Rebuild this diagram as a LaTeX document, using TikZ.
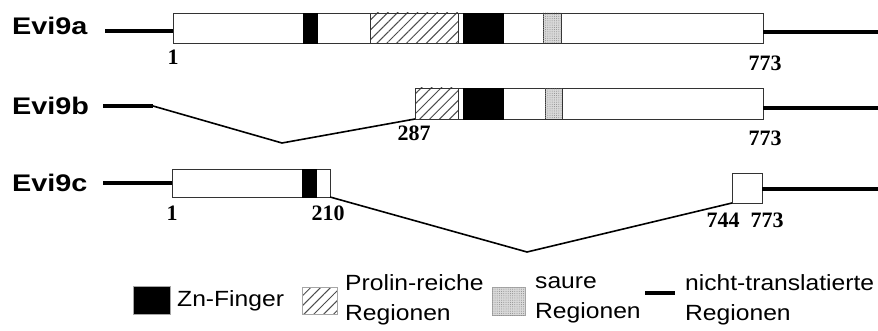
\documentclass[tikz,border=0pt]{standalone}
\usepackage{fontspec}
\usetikzlibrary{patterns.meta}
\newfontfamily\labf[FakeStretch=1.2]{Liberation Sans}
\newfontfamily\legf[FakeStretch=1.12]{Liberation Sans}
\newfontfamily\numf{Liberation Serif}
\begin{document}
\begin{tikzpicture}[x=1pt,y=-1pt,
  seg/.style={rectangle,inner sep=0pt,outer sep=0pt,anchor=north west,draw=black!80,line width=0.9pt},
  whitebox/.style={seg,fill=white},
  zn/.style={seg,fill=black,draw=black},
  pro/.style={seg,fill=white,pattern={Lines[angle=45,distance=7pt,line width=1pt]},pattern color=black!70},
  acid/.style={seg,fill=gray!30,postaction={pattern={Dots[distance=2.2pt,radius=0.5pt]},pattern color=gray!90}},
  utr/.style={line width=3.2pt},
  intron/.style={line width=1.6pt},
  rowlab/.style={font=\labf\bfseries\fontsize{24}{26}\selectfont,anchor=west,inner sep=0pt},
  num/.style={font=\numf\bfseries\fontsize{22}{24}\selectfont,inner sep=0pt},
  legtext/.style={font=\legf\fontsize{22}{30}\selectfont,anchor=west,align=left,inner sep=0pt},
  legbox/.style={rectangle,inner sep=0pt,anchor=north west,draw=gray!70,line width=0.9pt}
]
\useasboundingbox (0,0) rectangle (878,331);

% ---------- Evi9a ----------
\node[rowlab] (la) at (12,26) {Evi9a};
\node[whitebox,minimum width=590pt,minimum height=30pt] (a) at (173,13) {};
\node[zn,minimum width=14pt,minimum height=30pt] (a1) at (303,13) {};
\node[pro,minimum width=88pt,minimum height=30pt] (a2) at (370,13) {};
\node[zn,minimum width=40pt,minimum height=30pt] (a3) at (463,13) {};
\node[acid,minimum width=18pt,minimum height=30pt] (a4) at (543,13) {};
\coordinate (aL) at (105,31);
\coordinate (aR) at (878,32);
\draw[utr] (aL) -- (aL -| a.west);
\draw[utr] (aR -| a.east) -- (aR);
\node[num] (na1) at (173,57) {1};
\node[num] (na2) at (765,63) {773};

% ---------- Evi9b ----------
\node[rowlab] (lb) at (12,106) {Evi9b};
\node[whitebox,minimum width=348pt,minimum height=31pt] (b) at (415,88) {};
\node[pro,minimum width=43pt,minimum height=31pt] (b1) at (415,88) {};
\node[zn,minimum width=40pt,minimum height=31pt] (b2) at (463,88) {};
\node[acid,minimum width=17pt,minimum height=31pt] (b3) at (545,88) {};
\coordinate (bL) at (103,106);
\coordinate (bK) at (153,106);
\coordinate (bV) at (282,143);
\coordinate (bR) at (878,108);
\draw[utr] (bL) -- (bK);
\draw[intron] (bK) -- (bV) -- (b.south west);
\draw[utr] (bR -| b.east) -- (bR);
\node[num] (nb1) at (414,133) {287};
\node[num] (nb2) at (765,138) {773};

% ---------- Evi9c ----------
\node[rowlab] (lc) at (12,183) {Evi9c};
\node[whitebox,minimum width=158pt,minimum height=28pt] (c) at (172,169) {};
\node[zn,minimum width=14pt,minimum height=28pt] (c1) at (302,169) {};
\node[whitebox,minimum width=30pt,minimum height=30pt] (d) at (732,173) {};
\coordinate (cL) at (103,183);
\coordinate (cV) at (527,252);
\coordinate (cR) at (878,189);
\draw[utr] (cL) -- (cL -| c.west);
\draw[intron] (c.south east) -- (cV) -- (d.south west);
\draw[utr] (cR -| d.east) -- (cR);
\node[num] (nc1) at (172,213) {1};
\node[num] (nc2) at (328,213) {210};
\node[num] (nc3) at (723,220) {744};
\node[num] (nc4) at (767,220) {773};

% ---------- Legend ----------
\node[legbox,fill=black,minimum width=37pt,minimum height=28pt] (k1) at (133,286) {};
\node[legtext] (t1) at (177,301) {Zn-Finger};
\node[legbox,fill=white,pattern={Lines[angle=45,distance=7pt,line width=1pt]},pattern color=black!70,minimum width=35pt,minimum height=27pt] (k2) at (302,287) {};
\node[legtext] (t2) at (345,300) {Prolin-reiche\\Regionen};
\node[legbox,fill=gray!30,postaction={pattern={Dots[distance=2.2pt,radius=0.5pt]},pattern color=gray!90},minimum width=33pt,minimum height=28pt] (k3) at (492,287) {};
\node[legtext] (t3) at (535,300) {saure\\Regionen};
\coordinate (k4a) at (645,293);
\coordinate (k4b) at (675,293);
\draw[utr] (k4a) -- (k4b);
\node[legtext] (t4) at (685,300) {nicht-translatierte\\Regionen};
\end{tikzpicture}
\end{document}
